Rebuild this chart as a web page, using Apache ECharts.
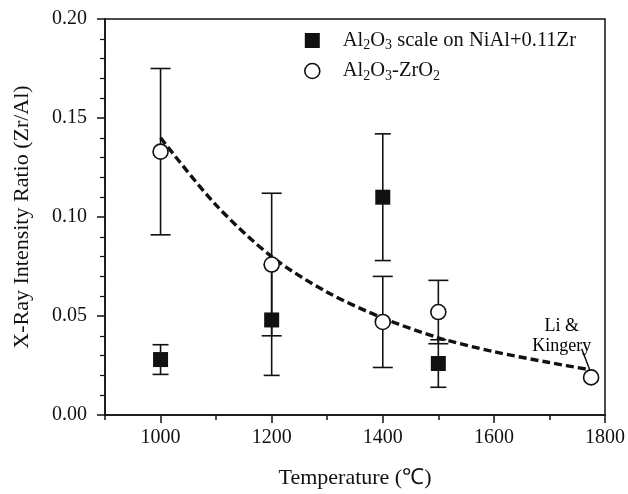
<!DOCTYPE html>
<html>
<head>
<meta charset="utf-8">
<script src="https://cdn.jsdelivr.net/npm/echarts@6/dist/echarts.min.js"></script>
<style>html,body{margin:0;padding:0;background:#fff}#c{width:628px;height:494px}</style>
</head>
<body>
<div id="c"></div>
<script>
// ---- data ----
const scaleTemps = [1000, 1200, 1400, 1500];
const scaleVals  = [0.028, 0.048, 0.110, 0.026];
const scaleErr   = [0.0075, 0.028, 0.032, 0.012];

const oxideTemps = [1000, 1200, 1400, 1500, 1775];
const oxideVals  = [0.133, 0.076, 0.047, 0.052, 0.019];
const oxideErr   = [0.042, 0.036, 0.023, 0.016, 0];

const fitTemps = [1000, 1100, 1200, 1300, 1400, 1500, 1600, 1700, 1770];
const fitVals  = [0.140, 0.106, 0.080, 0.062, 0.049, 0.039, 0.032, 0.0265, 0.023];

const xMajorTicks = [1000, 1200, 1400, 1600, 1800];
const xMinorTicks = [900, 1100, 1300, 1500, 1700];

const noteText = 'Li &\nKingery';
const notePos = [1722, 0.040];
const notePointer = [[1758, 0.0335], [1773, 0.0225]];

const legendNames = ['Al{s|2}O{s|3} scale on NiAl+0.11Zr', 'Al{s|2}O{s|3}-ZrO{s|2}'];

// ---- build ----
const zip = (a, b) => a.map((v, i) => [v, b[i]]);
const errData = (t, v, e) => t.map((x, i) => [x, v[i] - e[i], v[i] + e[i]]).filter((d, i) => e[i] > 0);

const FONT = 'Liberation Serif';

function errRender(capW) {
  return function (params, api) {
    const x = api.value(0), lo = api.value(1), hi = api.value(2);
    const a = api.coord([x, lo]), b = api.coord([x, hi]);
    const st = { stroke: '#111', lineWidth: 1.6 };
    return {
      type: 'group',
      children: [
        { type: 'line', shape: { x1: a[0], y1: a[1], x2: b[0], y2: b[1] }, style: st },
        { type: 'line', shape: { x1: a[0] - capW / 2, y1: a[1], x2: a[0] + capW / 2, y2: a[1] }, style: st },
        { type: 'line', shape: { x1: b[0] - capW / 2, y1: b[1], x2: b[0] + capW / 2, y2: b[1] }, style: st }
      ]
    };
  };
}

const chart = echarts.init(document.getElementById('c'), null, { renderer: 'canvas' });
const richSub = {
  s: { fontFamily: FONT, fontSize: 14, color: '#111', padding: [10, 0, 0, 0] }
};
chart.setOption({
  animation: false,
  backgroundColor: '#fff',
  textStyle: { fontFamily: FONT, color: '#111' },
  grid: { left: 105, right: 22, top: 19, bottom: 72, show: true, borderColor: '#111', borderWidth: 1.5, containLabel: false },
  legend: {
    left: 299, top: 25, orient: 'vertical', itemWidth: 15, itemHeight: 15, itemGap: 8,
    data: [
      { name: 's1', icon: 'rect', itemStyle: { color: '#111', borderWidth: 0 } },
      { name: 's2', icon: 'circle', itemStyle: { color: '#fff', borderColor: '#111', borderWidth: 1.6 } }
    ],
    formatter: n => n === 's1' ? legendNames[0] : legendNames[1],
    textStyle: { fontFamily: FONT, fontSize: 20.5, color: '#111', padding: [0, 0, 0, 18], rich: richSub }
  },
  xAxis: [{
    type: 'value', min: 900, max: 1800, interval: 100,
    name: 'Temperature (\u2103)', nameLocation: 'middle', nameGap: 52,
    nameTextStyle: { fontFamily: FONT, fontSize: 22, color: '#111' },
    axisLine: { show: true, onZero: false, lineStyle: { color: '#111', width: 1.5 } },
    axisTick: { show: true, inside: false, length: 8, lineStyle: { color: '#111', width: 1.5 }, customValues: xMajorTicks },
    axisLabel: { customValues: xMajorTicks, formatter: v => String(v), fontFamily: FONT, fontSize: 20, color: '#111', margin: 13 },
    splitLine: { show: false }
  }, {
    type: 'value', min: 900, max: 1800, interval: 100, position: 'bottom',
    axisLine: { show: false },
    axisTick: { show: true, inside: false, length: 5, lineStyle: { color: '#111', width: 1.5 }, customValues: xMinorTicks },
    axisLabel: { show: false },
    splitLine: { show: false }
  }],
  yAxis: {
    type: 'value', min: 0, max: 0.2, interval: 0.05,
    name: 'X-Ray Intensity Ratio (Zr/Al)', nameLocation: 'middle', nameGap: 72, nameRotate: 90,
    nameTextStyle: { fontFamily: FONT, fontSize: 22, color: '#111' },
    axisLine: { show: true, lineStyle: { color: '#111', width: 1.5 } },
    axisTick: { show: true, length: 8, lineStyle: { color: '#111', width: 1.5 } },
    minorTick: { show: true, splitNumber: 5, length: 5, lineStyle: { color: '#111', width: 1.2 } },
    axisLabel: { formatter: v => v.toFixed(2), fontFamily: FONT, fontSize: 20, color: '#111', margin: 18 },
    splitLine: { show: false }, minorSplitLine: { show: false }
  },
  series: [
    {
      type: 'line', name: 'fit', data: zip(fitTemps, fitVals), smooth: 0.3, symbol: 'none', z: 3,
      lineStyle: { color: '#111', width: 3.4, type: [8, 4] }
    },
    {
      type: 'custom', name: 'errScale', data: errData(scaleTemps, scaleVals, scaleErr), renderItem: errRender(16), z: 2,
      encode: { x: 0, y: [1, 2] }
    },
    {
      type: 'custom', name: 'errOxide', data: errData(oxideTemps, oxideVals, oxideErr), renderItem: errRender(20), z: 2,
      encode: { x: 0, y: [1, 2] }
    },
    {
      type: 'scatter', name: 's1', data: zip(scaleTemps, scaleVals), symbol: 'rect', symbolSize: 15, z: 5,
      itemStyle: { color: '#111', opacity: 1 }
    },
    {
      type: 'scatter', name: 's2', data: zip(oxideTemps, oxideVals), symbol: 'circle', symbolSize: 15, z: 5,
      itemStyle: { color: '#fff', borderColor: '#111', borderWidth: 1.6, opacity: 1 }
    },
    {
      type: 'line', name: 'pointer', data: notePointer, symbol: 'none', z: 4,
      lineStyle: { color: '#111', width: 1.5 }
    },
    {
      type: 'scatter', name: 'note', data: [notePos], symbolSize: 0, z: 6, silent: true,
      itemStyle: { opacity: 1 },
      label: { show: true, position: 'inside', formatter: noteText, fontFamily: FONT, fontSize: 18, lineHeight: 20, color: '#000', align: 'center', opacity: 1 }
    }
  ]
});
</script>
</body>
</html>
